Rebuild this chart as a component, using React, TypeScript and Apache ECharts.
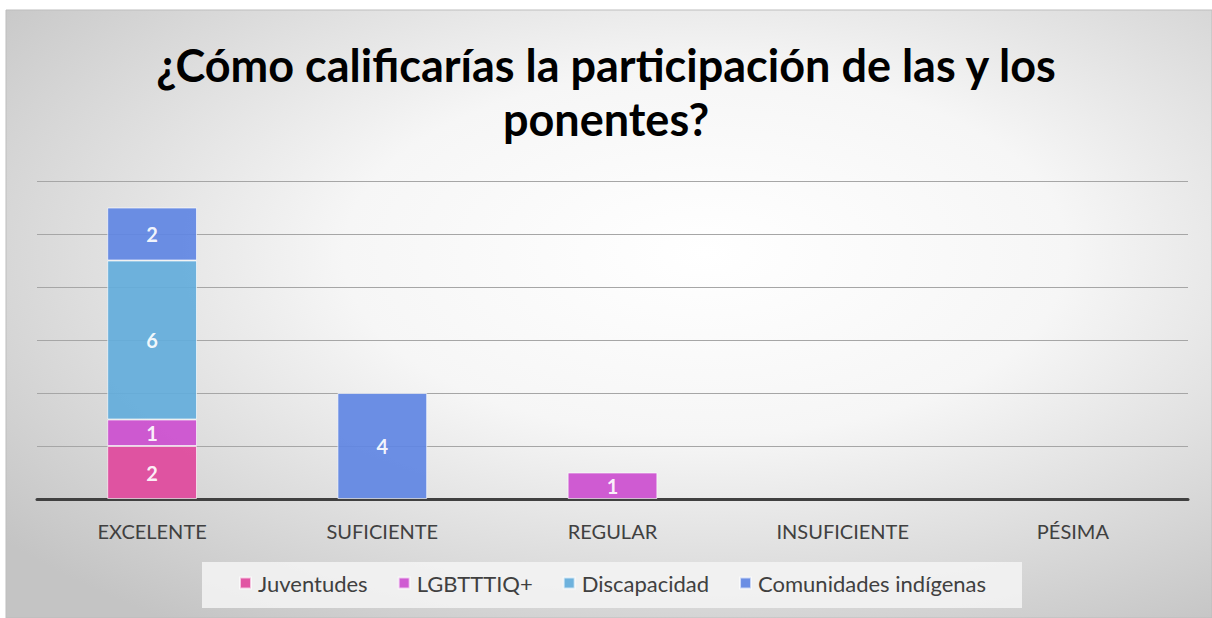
import React, { useEffect, useRef } from "react";
import * as echarts from "echarts";

const categories = ["EXCELENTE", "SUFICIENTE", "REGULAR", "INSUFICIENTE", "PÉSIMA"];
const seriesNames = ["Juventudes", "LGBTTTIQ+", "Discapacidad", "Comunidades indígenas"];
const juventudes = [2, 0, 0, 0, 0];
const lgbt = [1, 0, 1, 0, 0];
const discapacidad = [6, 0, 0, 0, 0];
const comunidades = [2, 4, 0, 0, 0];
const colors = ["#e0489c", "#cc4ecf", "#63addb", "#6086e3"];
const titleText = "¿Cómo calificarías la participación de las y los\nponentes?";

const FONT = "Lato";

export default function App() {
  const ref = useRef<HTMLDivElement>(null);
  useEffect(() => {
    document.body.style.margin = "0";
    const chart = echarts.init(ref.current!, null, { renderer: "svg" });
    const values = [juventudes, lgbt, discapacidad, comunidades];
    chart.setOption({
      animation: false,
      backgroundColor: "#ffffff",
      textStyle: { fontFamily: FONT },
      graphic: [
        {
          type: "rect",
          z: -10,
          silent: true,
          shape: { x: 6, y: 10, width: 1206, height: 608 },
          style: {
            fill: new echarts.graphic.RadialGradient(0.58, 0.4, 0.75, [
              { offset: 0, color: "#ffffff" },
              { offset: 0.4, color: "#f6f6f6" },
              { offset: 1, color: "#c4c4c4" },
            ]),
            stroke: "#bdbdbd",
            lineWidth: 1,
          },
        },
        {
          type: "rect",
          z: -5,
          silent: true,
          shape: { x: 202, y: 562, width: 820, height: 46 },
          style: { fill: "rgba(245,245,245,0.85)" },
        },
      ],
      title: {
        text: titleText,
        left: "center",
        top: 33,
        textStyle: {
          fontFamily: FONT,
          fontSize: 45,
          fontWeight: "bold",
          color: "#000000",
          lineHeight: 54,
        },
      },
      legend: {
        left: 234,
        top: 566,
        itemWidth: 11,
        itemHeight: 11,
        itemGap: 30,
        icon: "rect",
        data: seriesNames,
        textStyle: {
          fontFamily: FONT,
          fontSize: 22,
          color: "#404040",
          lineHeight: 24,
          padding: [0, 0, 0, 2],
        },
      },
      grid: { left: 37, right: 24, top: 181, bottom: 119, containLabel: false },
      xAxis: {
        type: "category",
        data: categories,
        axisLine: { lineStyle: { color: "#404040", width: 3 } },
        axisTick: { show: false },
        axisLabel: { fontFamily: FONT, fontSize: 20, color: "#404040", margin: 22 },
      },
      yAxis: {
        type: "value",
        min: 0,
        max: 12,
        interval: 2,
        axisLabel: { show: false },
        axisLine: { show: false },
        axisTick: { show: false },
        splitLine: { lineStyle: { color: "#a6a6a6", width: 1 } },
      },
      series: seriesNames.map((name, i) => ({
        name,
        type: "bar",
        stack: "total",
        barWidth: "39%",
        data: values[i].map((v) => (v === 0 ? null : v)),
        itemStyle: {
          color: colors[i],
          opacity: 0.92,
          borderColor: "rgba(255,255,255,0.7)",
          borderWidth: 1,
        },
        label: {
          show: true,
          position: "inside",
          color: "#ffffff",
          fontFamily: FONT,
          fontSize: 20,
          fontWeight: "bold",
        },
      })),
    });
    return () => chart.dispose();
  }, []);
  return <div ref={ref} style={{ width: 1212, height: 618 }} />;
}
